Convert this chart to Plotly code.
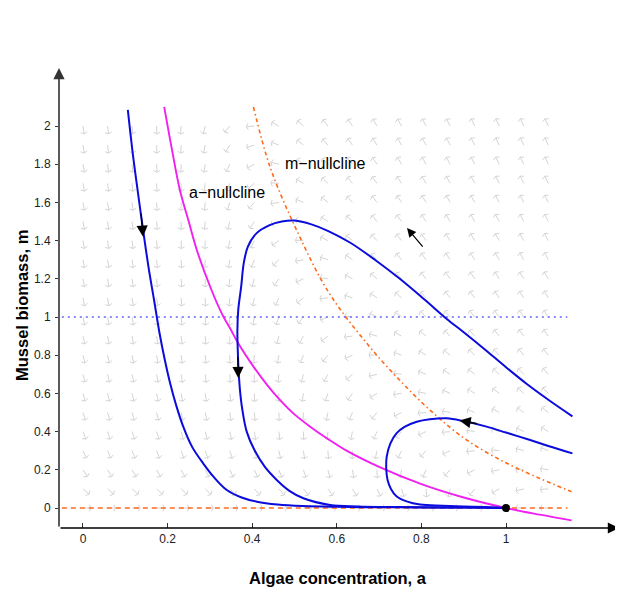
import numpy as np
import plotly.graph_objects as go

# quiver grid (algae a, mussel m) and arrow direction in screen degrees
a_grid = [0.0, 0.058, 0.116, 0.174, 0.232, 0.289, 0.347, 0.405, 0.463, 0.521,
          0.579, 0.637, 0.695, 0.753, 0.811, 0.868, 0.926, 0.984, 1.042, 1.1]
m_grid = [0.0, 0.1, 0.2, 0.3, 0.4, 0.5, 0.6, 0.7, 0.8, 0.9, 1.0,
          1.1, 1.2, 1.3, 1.4, 1.5, 1.6, 1.7, 1.8, 1.9, 2.0]
angles = [
    [0, 0, 0, 0, 0, 0, 0, 0, 0, 0, 0, 0, 0, 0, 0, 0, 0, 0, 180, 180],
    [-40, -41, -41, -42, -43, -44, -45, -47, -48, -51, -54, -58, -63, -72, -85, -104, -128, -150, -166, -176],
    [-57, -58, -59, -60, -61, -62, -64, -65, -68, -71, -75, -80, -88, -99, -114, -133, -153, -169, 178, 170],
    [-65, -66, -67, -68, -69, -70, -72, -74, -77, -81, -86, -93, -102, -116, -134, -155, -173, 174, 164, 157],
    [-69, -70, -71, -72, -74, -75, -77, -80, -83, -87, -94, -102, -115, -133, -155, -175, 170, 160, 153, 148],
    [-72, -73, -74, -75, -77, -78, -81, -84, -88, -93, -101, -113, -130, -153, -175, 169, 157, 150, 144, 141],
    [-74, -75, -76, -77, -79, -81, -83, -87, -92, -98, -109, -125, -147, -172, 169, 156, 148, 142, 138, 135],
    [-75, -76, -77, -79, -81, -83, -86, -90, -95, -104, -118, -139, -166, 172, 157, 147, 141, 137, 134, 131],
    [-76, -77, -79, -80, -82, -84, -88, -93, -100, -111, -129, -156, 178, 159, 148, 141, 136, 132, 130, 128],
    [-77, -78, -80, -81, -83, -86, -90, -95, -104, -119, -143, -173, 164, 150, 141, 136, 132, 129, 127, 126],
    [-78, -79, -80, -82, -84, -87, -92, -99, -110, -129, -158, 173, 154, 143, 136, 132, 129, 127, 125, 124],
    [-78, -80, -81, -83, -85, -89, -94, -102, -116, -141, -174, 161, 146, 138, 132, 129, 126, 125, 123, 122],
    [-79, -80, -82, -84, -86, -90, -96, -106, -124, -155, 172, 152, 140, 134, 129, 127, 124, 123, 122, 121],
    [-79, -80, -82, -84, -87, -92, -99, -111, -134, -169, 161, 145, 136, 131, 127, 125, 123, 121, 120, 119],
    [-80, -81, -83, -85, -88, -93, -101, -116, -145, 177, 153, 140, 133, 128, 125, 123, 121, 120, 119, 118],
    [-80, -81, -83, -85, -89, -95, -104, -123, -158, 166, 146, 136, 130, 126, 123, 122, 120, 119, 118, 117],
    [-80, -81, -83, -86, -90, -96, -108, -131, -171, 157, 141, 132, 127, 124, 122, 120, 119, 118, 117, 117],
    [-80, -82, -84, -87, -91, -98, -112, -140, 177, 150, 137, 130, 126, 123, 121, 119, 118, 117, 117, 116],
    [-80, -82, -84, -87, -92, -100, -116, -151, 167, 144, 134, 128, 124, 122, 120, 119, 117, 117, 116, 115],
    [-81, -82, -84, -88, -93, -102, -122, -162, 159, 140, 131, 126, 123, 120, 119, 118, 117, 116, 115, 115],
    [-81, -82, -85, -88, -94, -105, -129, -174, 152, 136, 129, 124, 121, 120, 118, 117, 116, 115, 115, 114],
]

# nullclines
a_null_a = [0.192, 0.21, 0.229, 0.25, 0.269, 0.304, 0.33, 0.348, 0.367, 0.403, 0.435, 0.466,
            0.5, 0.537, 0.58, 0.623, 0.7, 0.8, 0.9, 1.0, 1.08, 1.155]
a_null_m = [2.1, 1.88, 1.665, 1.5, 1.351, 1.14, 1.01, 0.94, 0.862, 0.74, 0.645, 0.565,
            0.49, 0.426, 0.36, 0.3, 0.215, 0.125, 0.055, 0.0, -0.035, -0.065]
m_null_a = [0.403, 0.442, 0.505, 0.58, 0.671, 0.741, 0.82, 0.907, 1.002, 1.08, 1.155]
m_null_m = [2.1, 1.787, 1.455, 1.132, 0.862, 0.687, 0.513, 0.356, 0.234, 0.155, 0.085]
line_a = [-0.05, 1.145]
m_zero = [0.0, 0.0]
m_one = [1.0, 1.0]

# trajectories
t1_a = [0.106, 0.118, 0.13, 0.141, 0.155, 0.168, 0.181, 0.193, 0.206, 0.22, 0.237, 0.258,
        0.284, 0.31, 0.34, 0.375, 0.411, 0.46, 0.52, 0.6, 0.7, 0.8, 0.9, 1.0]
t1_m = [2.084, 1.85, 1.65, 1.473, 1.26, 1.089, 0.915, 0.78, 0.653, 0.54, 0.426, 0.32,
        0.234, 0.16, 0.094, 0.055, 0.033, 0.018, 0.01, 0.006, 0.004, 0.003, 0.002, 0.0]
t2_a = [1.157, 1.1, 1.05, 1.0, 0.95, 0.9, 0.86, 0.808, 0.749, 0.69, 0.631, 0.58, 0.54, 0.5,
        0.47, 0.44, 0.41, 0.39, 0.38, 0.374, 0.367, 0.365, 0.366, 0.368, 0.371, 0.376,
        0.387, 0.405, 0.43, 0.458, 0.488, 0.521, 0.584, 0.65, 0.75, 0.85, 0.95, 1.0]
t2_m = [0.48, 0.567, 0.648, 0.737, 0.83, 0.92, 0.99, 1.09, 1.2, 1.3, 1.39, 1.45, 1.485, 1.505,
        1.5, 1.48, 1.438, 1.37, 1.281, 1.16, 1.037, 0.93, 0.82, 0.714, 0.62, 0.525,
        0.4, 0.305, 0.215, 0.147, 0.09, 0.051, 0.016, 0.008, 0.005, 0.003, 0.002, 0.0]
t3_a = [1.157, 1.1, 1.057, 1.0, 0.954, 0.9, 0.86, 0.82, 0.789, 0.76, 0.741, 0.727, 0.718,
        0.717, 0.72, 0.728, 0.741, 0.765, 0.797, 0.85, 0.9, 0.95, 1.0]
t3_m = [0.286, 0.325, 0.356, 0.395, 0.426, 0.455, 0.47, 0.465, 0.452, 0.425, 0.391, 0.34,
        0.269, 0.2, 0.147, 0.1, 0.062, 0.035, 0.018, 0.012, 0.008, 0.005, 0.0]

# trajectory arrowheads: (tip a, tip m, tail a, tail m)
traj_arrows = [(0.142, 1.42, 0.137, 1.55), (0.367, 0.68, 0.366, 0.8), (0.89, 0.458, 0.935, 0.44)]
big_arrow = (0.766, 1.466, 0.806, 1.361)

W, H = 623, 605
PAGE = 8  # page body margin around the plot div
ML, MR, MT, MB = 51, 12, 60, 85
x_rng = [-0.0567, 1.2671]
y_rng = [-0.1047, 2.3037]
plot_w = W - ML - MR
plot_h = H - MT - MB
px_x = plot_w / (x_rng[1] - x_rng[0])
px_y = plot_h / (y_rng[1] - y_rng[0])
left_px = PAGE + ML
bottom_px = PAGE + MT + plot_h

font = "Liberation Sans, Arial, Helvetica, sans-serif"
fig = go.Figure()

# direction field
L, HB, spread = 8.0, 3.8, np.deg2rad(62)
qx, qy = [], []
for j, mv in enumerate(m_grid):
    for i, av in enumerate(a_grid):
        th = np.deg2rad(angles[j][i])
        x1 = av + L * np.cos(th) / px_x
        y1 = mv + L * np.sin(th) / px_y
        qx += [av, x1, None]
        qy += [mv, y1, None]
        b1 = th + np.pi - spread
        b2 = th + np.pi + spread
        qx += [x1 + HB * np.cos(b1) / px_x, x1, x1 + HB * np.cos(b2) / px_x, None]
        qy += [y1 + HB * np.sin(b1) / px_y, y1, y1 + HB * np.sin(b2) / px_y, None]
fig.add_trace(go.Scatter(x=qx, y=qy, mode="lines", line=dict(color="#d4d4d4", width=1),
                         hoverinfo="skip", showlegend=False))

fig.add_trace(go.Scatter(x=line_a, y=m_one, mode="lines",
                         line=dict(color="#6464ff", width=1.6, dash="2px,4px"), showlegend=False))
fig.add_trace(go.Scatter(x=line_a, y=m_zero, mode="lines",
                         line=dict(color="#ff6a1a", width=1.5, dash="5px,4px"), showlegend=False))
fig.add_trace(go.Scatter(x=m_null_a, y=m_null_m, mode="lines", line_shape="spline",
                         line=dict(color="#ff6a1a", width=1.6, dash="4px,3px,1.5px,3px"),
                         showlegend=False))
fig.add_trace(go.Scatter(x=a_null_a, y=a_null_m, mode="lines", line_shape="spline",
                         line=dict(color="#f020f0", width=1.9), showlegend=False))

for ta, tm in [(t1_a, t1_m), (t2_a, t2_m), (t3_a, t3_m)]:
    fig.add_trace(go.Scatter(x=ta, y=tm, mode="lines", line_shape="spline",
                             line=dict(color="#0b0bdc", width=2), showlegend=False))

fig.add_trace(go.Scatter(x=[1.0], y=[0.0], mode="markers",
                         marker=dict(color="black", size=8), showlegend=False))

for xa, ya, xt, yt in traj_arrows:
    fig.add_annotation(x=xa, y=ya, ax=xt, ay=yt, xref="x", yref="y", axref="x", ayref="y",
                       text="", showarrow=True, arrowhead=2, arrowsize=1.6, arrowwidth=1.4,
                       arrowcolor="black")
fig.add_annotation(x=big_arrow[0], y=big_arrow[1], ax=big_arrow[2], ay=big_arrow[3],
                   xref="x", yref="y", axref="x", ayref="y", text="", showarrow=True,
                   arrowhead=2, arrowsize=1.5, arrowwidth=1.2, arrowcolor="black")

# axis lines with arrows
fig.add_annotation(x=x_rng[1], y=y_rng[0], ax=x_rng[0], ay=y_rng[0], xref="x", yref="y",
                   axref="x", ayref="y", text="", showarrow=True, arrowhead=2,
                   arrowsize=1.4, arrowwidth=1.6, arrowcolor="black")
fig.add_annotation(x=x_rng[0], y=y_rng[1], ax=x_rng[0], ay=y_rng[0], xref="x", yref="y",
                   axref="x", ayref="y", text="", showarrow=True, arrowhead=2,
                   arrowsize=1.4, arrowwidth=1.6, arrowcolor="#333333")

fig.add_annotation(x=0.246, y=1.65, text="a\u2212nullcline", showarrow=False,
                   xanchor="left", yanchor="middle", font=dict(size=16, color="black", family=font))
fig.add_annotation(x=0.473, y=1.806, text="m\u2212nullcline", showarrow=False,
                   xanchor="left", yanchor="middle", font=dict(size=16, color="black", family=font))

fig.add_annotation(x=(338 - left_px) / plot_w, y=(bottom_px - 578) / plot_h,
                   xref="paper", yref="paper", text="<b>Algae concentration, a</b>",
                   showarrow=False, xanchor="center", yanchor="middle",
                   font=dict(size=16.5, color="black", family=font))
fig.add_annotation(x=(22 - left_px) / plot_w, y=(bottom_px - 306) / plot_h,
                   xref="paper", yref="paper", text="<b>Mussel biomass, m</b>", textangle=-90,
                   showarrow=False, xanchor="center", yanchor="middle",
                   font=dict(size=16.5, color="black", family=font))

x_ticks = [0, 0.2, 0.4, 0.6, 0.8, 1]
x_labels = ["0", "0.2", "0.4", "0.6", "0.8", "1"]
y_ticks = [0, 0.2, 0.4, 0.6, 0.8, 1, 1.2, 1.4, 1.6, 1.8, 2]
y_labels = ["0", "0.2", "0.4", "0.6", "0.8", "1", "1.2", "1.4", "1.6", "1.8", "2"]

fig.update_xaxes(range=x_rng, tickvals=x_ticks, ticktext=x_labels, ticks="inside", ticklen=5,
                 tickcolor="#333333", showgrid=False, zeroline=False, showline=False,
                 ticklabelstandoff=2, tickfont=dict(size=12, color="#222222", family=font))
fig.update_yaxes(range=y_rng, tickvals=y_ticks, ticktext=y_labels, ticks="outside", ticklen=3,
                 tickcolor="#333333", showgrid=False, zeroline=False, showline=False,
                 ticklabelstandoff=2, tickfont=dict(size=12, color="#222222", family=font))
fig.update_layout(width=W, height=H, margin=dict(l=ML, r=MR, t=MT, b=MB),
                  plot_bgcolor="white", paper_bgcolor="white", showlegend=False)

fig.write_html("out.html")
